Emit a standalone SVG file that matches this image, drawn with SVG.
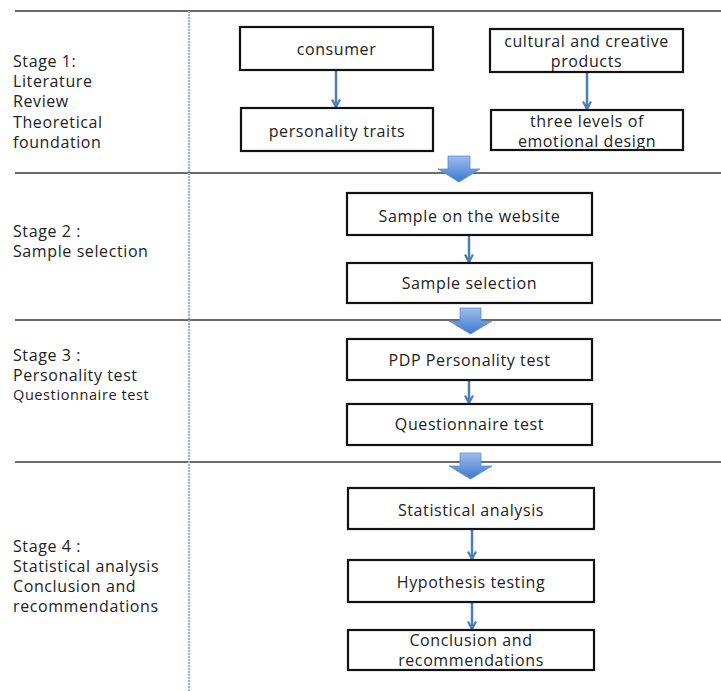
<svg xmlns="http://www.w3.org/2000/svg" width="721" height="691" viewBox="0 0 721 691">
<style>
text{font-family:"Open Sans","Noto Sans","DejaVu Sans",sans-serif;font-size:16px;letter-spacing:0.6px;fill:#222}
.c{text-anchor:middle}
.box{fill:#fff;stroke:#111;stroke-width:2.2}
.sep{stroke:#3a3a3a;stroke-width:1.6}
.ar{stroke:#4a7ebb;stroke-width:2.5;fill:none}
.blk{fill:url(#g);stroke:#5b8ad0;stroke-width:0.8}
</style>
<defs>
<marker id="ah" viewBox="0 0 10 10" refX="9" refY="5" markerWidth="10" markerHeight="10" orient="auto" markerUnits="userSpaceOnUse">
<path d="M1.5,1 L9,5 L1.5,9" fill="none" stroke="#4a7ebb" stroke-width="2.2"/>
</marker>
<linearGradient id="g" x1="0" y1="0" x2="0" y2="1">
<stop offset="0" stop-color="#9dbdeb"/>
<stop offset="1" stop-color="#3c78cf"/>
</linearGradient>
</defs>
<rect width="721" height="691" fill="#fff"/>
<g id="frame">
<line class="sep" x1="15" y1="11" x2="721" y2="11"/>
<line class="sep" x1="15" y1="173" x2="721" y2="173"/>
<line class="sep" x1="15" y1="320" x2="721" y2="320"/>
<line class="sep" x1="15" y1="462" x2="721" y2="462"/>
<line x1="189" y1="11" x2="189" y2="691" stroke="#8db3e2" stroke-width="2" stroke-dasharray="2,1"/>
</g>
<g id="stage-labels">
<text x="13" y="67">Stage 1:</text>
<text x="13" y="87">Literature</text>
<text x="13" y="107">Review</text>
<text x="13" y="128">Theoretical</text>
<text x="13" y="148">foundation</text>
<text x="13" y="237">Stage 2 :</text>
<text x="13" y="257">Sample selection</text>
<text x="13" y="361">Stage 3 :</text>
<text x="13" y="381">Personality test</text>
<text x="13" y="400" style="font-size:14.5px">Questionnaire test</text>
<text x="13" y="552">Stage 4 :</text>
<text x="13" y="572">Statistical analysis</text>
<text x="13" y="592">Conclusion and</text>
<text x="13" y="612">recommendations</text>
</g>
<g id="connectors">
<line class="ar" x1="336" y1="71" x2="336" y2="107" marker-end="url(#ah)"/>
<line class="ar" x1="587" y1="73" x2="587" y2="109" marker-end="url(#ah)"/>
<line class="ar" x1="469" y1="236" x2="469" y2="262" marker-end="url(#ah)"/>
<line class="ar" x1="469" y1="381" x2="469" y2="403" marker-end="url(#ah)"/>
<line class="ar" x1="472" y1="530" x2="472" y2="559" marker-end="url(#ah)"/>
<line class="ar" x1="472" y1="603" x2="472" y2="629" marker-end="url(#ah)"/>
<path class="blk" d="M448,156 H470 V169 H480 L459,182 L438,169 H448 Z"/>
<path class="blk" d="M460,308 H481 V321 H492 L470.5,334 L449,321 H460 Z"/>
<path class="blk" d="M460,453 H481 V466 H492 L470.5,479 L449,466 H460 Z"/>
</g>
<g id="consumer"><rect class="box" x="240" y="27" width="193" height="43"/><text class="c" x="336.5" y="55">consumer</text></g>
<g id="personality-traits"><rect class="box" x="241" y="108" width="192" height="43"/><text class="c" x="337" y="137">personality traits</text></g>
<g id="cultural-products"><rect class="box" x="490" y="29" width="193" height="43"/><text class="c" x="586.5" y="47">cultural and creative</text><text class="c" x="586.5" y="67">products</text></g>
<g id="three-levels"><rect class="box" x="491" y="110" width="192" height="40"/><text class="c" x="587" y="127">three levels of</text><text class="c" x="587" y="147">emotional design</text></g>
<g id="sample-website"><rect class="box" x="347" y="193" width="245" height="42"/><text class="c" x="469.5" y="222">Sample on the website</text></g>
<g id="sample-selection"><rect class="box" x="347" y="263" width="245" height="40"/><text class="c" x="469.5" y="289">Sample selection</text></g>
<g id="pdp-test"><rect class="box" x="347" y="339" width="245" height="41"/><text class="c" x="469.5" y="366">PDP Personality test</text></g>
<g id="questionnaire-test"><rect class="box" x="347" y="404" width="245" height="41"/><text class="c" x="469.5" y="430">Questionnaire test</text></g>
<g id="statistical-analysis"><rect class="box" x="348" y="488" width="246" height="41"/><text class="c" x="471" y="516">Statistical analysis</text></g>
<g id="hypothesis-testing"><rect class="box" x="348" y="560" width="246" height="42"/><text class="c" x="471" y="588">Hypothesis testing</text></g>
<g id="conclusion"><rect class="box" x="348" y="630" width="246" height="40"/><text class="c" x="471" y="646">Conclusion and</text><text class="c" x="471" y="666">recommendations</text></g>
</svg>
